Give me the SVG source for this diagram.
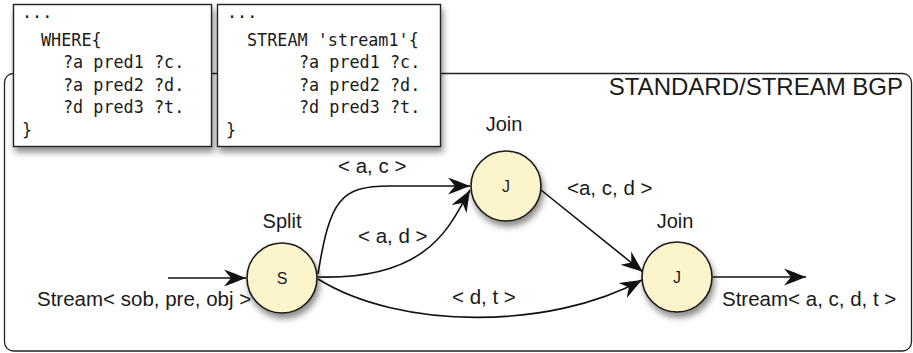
<svg xmlns="http://www.w3.org/2000/svg" width="913" height="353" viewBox="0 0 913 353">
  <style>
    .frame { fill: #ffffff; stroke: #222; stroke-width: 1.3; }
    .code-box { fill: #ffffff; stroke: #222; stroke-width: 1.4; filter: url(#shadow); }
    .code { font-family: "DejaVu Sans Mono", "Liberation Mono", monospace; font-size: 16.8px; fill: #1a1a1a; }
    .op { fill: #fcf5cc; stroke: #1a1a1a; stroke-width: 1.6; filter: url(#shadow); }
    .op-letter { font-family: "Liberation Sans", Arial, sans-serif; font-size: 16px; fill: #1a1a1a; text-anchor: middle; }
    .op-label { font-family: "Liberation Sans", Arial, sans-serif; font-size: 20px; fill: #1a1a1a; text-anchor: middle; }
    .lbl { font-family: "Liberation Sans", Arial, sans-serif; font-size: 20.5px; fill: #1a1a1a; }
    .title { font-family: "Liberation Sans", Arial, sans-serif; font-size: 24px; fill: #1a1a1a; text-anchor: end; }
    .edge { fill: none; stroke: #111; stroke-width: 1.6; marker-end: url(#arrow); }
  </style>
  <defs>
    <filter id="shadow" x="-30%" y="-30%" width="160%" height="170%">
      <feDropShadow dx="2" dy="5" stdDeviation="3" flood-color="#000" flood-opacity="0.45"/>
    </filter>
    <marker id="arrow" viewBox="-24 -10 26 20" refX="0" refY="0" markerWidth="26" markerHeight="20" orient="auto" markerUnits="userSpaceOnUse">
      <path d="M0,0 C-8,-3 -15,-6 -22,-8.5 L-15,0 L-22,8.5 C-15,6 -8,3 0,0 Z" fill="#111"/>
    </marker>
  </defs>

  <!-- enclosing BGP frame -->
  <g id="frame">
    <rect class="frame" x="4.5" y="73.5" width="907" height="277.5" rx="9"/>
    <text class="title" x="903" y="95">STANDARD/STREAM BGP</text>
  </g>

  <!-- query fragments -->
  <g id="query-standard">
    <rect class="code-box" x="13.5" y="4.5" width="198" height="142"/>
    <text class="code" x="22" y="18">...</text>
    <text class="code" x="41" y="46">WHERE{</text>
    <text class="code" x="63" y="68">?a pred1 ?c.</text>
    <text class="code" x="63" y="90.5">?a pred2 ?d.</text>
    <text class="code" x="63" y="113">?d pred3 ?t.</text>
    <text class="code" x="22" y="135.5">}</text>
  </g>
  <g id="query-stream">
    <rect class="code-box" x="217.5" y="4.5" width="223" height="142"/>
    <text class="code" x="227" y="18">...</text>
    <text class="code" x="247" y="46">STREAM 'stream1'{</text>
    <text class="code" x="299" y="68">?a pred1 ?c.</text>
    <text class="code" x="299" y="90.5">?a pred2 ?d.</text>
    <text class="code" x="299" y="113">?d pred3 ?t.</text>
    <text class="code" x="226" y="135.5">}</text>
  </g>

  <!-- data flow -->
  <g id="connectors">
    <path class="edge" d="M168,278 L246,278"/>
    <path class="edge" d="M318,274 C330,200 340,186 390,186 L470,186"/>
    <path class="edge" d="M318,277 C430,280 450,225 470,190"/>
    <path class="edge" d="M318,279 C400,330 550,330 642,280"/>
    <path class="edge" d="M541,190 L643,272"/>
    <path class="edge" d="M713,277 L806,277"/>
    <text class="lbl" x="338" y="173">&lt; a, c &gt;</text>
    <text class="lbl" x="358" y="243">&lt; a, d &gt;</text>
    <text class="lbl" x="567" y="195">&lt;a, c, d &gt;</text>
    <text class="lbl" x="452" y="304">&lt; d, t &gt;</text>
    <text class="lbl" x="37" y="306">Stream&lt; sob, pre, obj &gt;</text>
    <text class="lbl" x="722" y="306">Stream&lt; a, c, d, t &gt;</text>
  </g>

  <!-- operators -->
  <g id="split">
    <circle class="op" cx="282" cy="278" r="35"/>
    <text class="op-letter" x="282" y="284">S</text>
    <text class="op-label" x="282" y="228">Split</text>
  </g>
  <g id="join1">
    <circle class="op" cx="506" cy="186" r="35"/>
    <text class="op-letter" x="506" y="192">J</text>
    <text class="op-label" x="504" y="131">Join</text>
  </g>
  <g id="join2">
    <circle class="op" cx="677" cy="277" r="35"/>
    <text class="op-letter" x="677" y="283">J</text>
    <text class="op-label" x="675" y="228">Join</text>
  </g>
</svg>
